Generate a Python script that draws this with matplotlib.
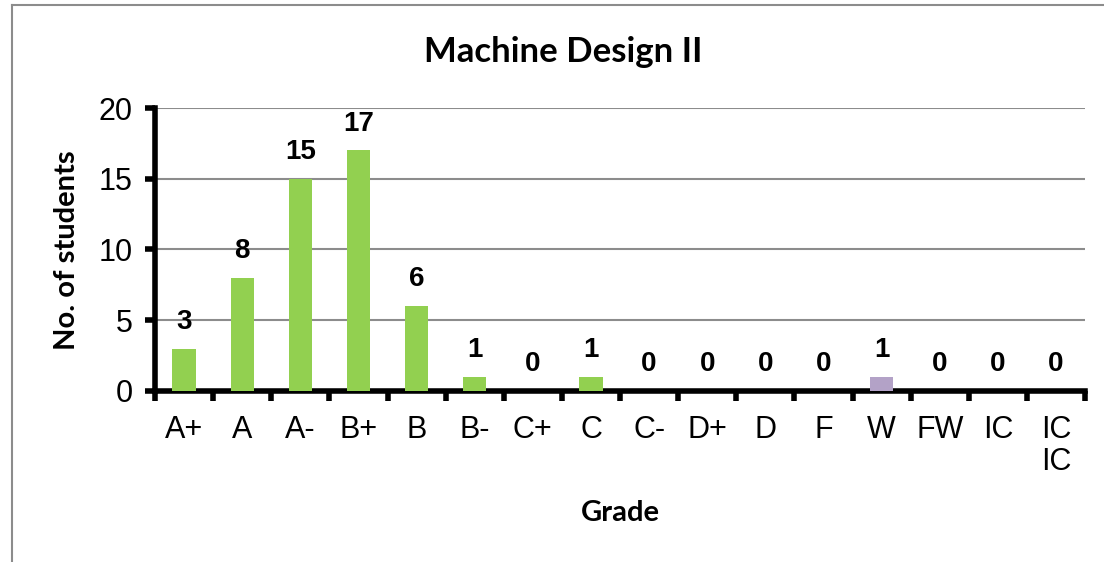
import matplotlib
matplotlib.use('Agg')
import matplotlib.pyplot as plt
from matplotlib.lines import Line2D
import numpy as np

# datos
grades = ['A+', 'A', 'A-', 'B+', 'B', 'B-', 'C+', 'C', 'C-', 'D+', 'D', 'F', 'W', 'FW', 'IC', 'IC\nIC']
students = [3, 8, 15, 17, 6, 1, 0, 1, 0, 0, 0, 0, 1, 0, 0, 0]
bar_colors = ['#92D050'] * 12 + ['#B3A2C7'] + ['#92D050'] * 3

fig = plt.figure(figsize=(11.04, 5.62), dpi=100)
ax = fig.add_axes([0.1404, 0.3043, 0.8424, 0.5035])

x = np.arange(len(grades))
ax.bar(x, students, width=0.4, color=bar_colors, zorder=3)

# etiquetas de valores
for xi, v in zip(x, students):
    ax.annotate(str(v), (xi, v), xytext=(0, 10), textcoords='offset points',
                ha='center', va='bottom', fontsize=20, fontweight='bold',
                family='Liberation Sans')

ax.set_xlim(-0.5, len(grades) - 0.5)
ax.set_ylim(0, 20)
ax.set_yticks([0, 5, 10, 15, 20])
ax.set_xticks(x)
ax.set_xticklabels(grades, family='Liberation Sans', fontsize=22, linespacing=1.1)
ax.set_yticklabels(['0', '5', '10', '15', '20'], family='Liberation Sans', fontsize=22)

# ticks en los limites de categoria
ax.set_xticks(np.arange(len(grades) + 1) - 0.5, minor=True)
ax.tick_params(axis='x', which='major', length=0, pad=17)
ax.tick_params(axis='x', which='minor', length=7, width=4, direction='out', color='black')
ax.tick_params(axis='y', length=7, width=4, direction='out', pad=9)

ax.grid(axis='y', color='#8C8C8C', linewidth=1.5, zorder=0)
ax.set_axisbelow(True)
for s in ['top', 'right']:
    ax.spines[s].set_visible(False)
for s in ['left', 'bottom']:
    ax.spines[s].set_linewidth(4)

fig.text(0.51, 0.907, 'Machine Design II', ha='center', va='center',
         fontsize=25, fontweight='bold', family='Lato')
fig.text(0.061, 0.555, 'No. of students', rotation=90, ha='center', va='center',
         fontsize=21, fontweight='bold', family='Lato')
fig.text(0.562, 0.087, 'Grade', ha='center', va='center',
         fontsize=21, fontweight='bold', family='Lato')

# borde del grafico
fig.add_artist(Line2D([0.011, 0.011], [0, 0.991], color='#8C8C8C', linewidth=1.5))
fig.add_artist(Line2D([0.011, 1.0], [0.991, 0.991], color='#8C8C8C', linewidth=1.5))

fig.savefig('out.png', dpi=100)
